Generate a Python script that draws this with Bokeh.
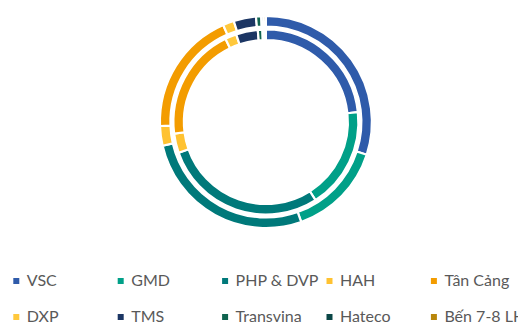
import numpy as np
from bokeh.plotting import figure
from bokeh.models import Range1d, ColumnDataSource
from bokeh.core.properties import value
from bokeh.embed import file_html
from bokeh.resources import INLINE

categories = ["VSC", "GMD", "PHP & DVP", "HAH", "Tân Cảng",
              "DXP", "TMS", "Transvina", "Hateco", "Bến 7-8 LH"]
outer_values = [30.0, 14.6, 26.8, 3.0, 19.0, 1.7, 3.4, 0.8, 0.35, 0.35]
inner_values = [23.3, 17.7, 28.6, 3.4, 19.8, 2.0, 3.8, 0.8, 0.3, 0.3]
colors = ["#2F5BAA", "#00A088", "#00797A", "#FFC231", "#F39C00",
          "#FFC83C", "#1C3664", "#10644F", "#0B4747", "#B8860B"]

W, H = 518, 324
p = figure(width=W, height=H, output_backend="svg", toolbar_location=None,
           x_range=Range1d(0, W), y_range=Range1d(0, H),
           min_border=0, outline_line_color=None)
p.axis.visible = False
p.grid.visible = False
p.background_fill_color = "white"
p.border_fill_color = "white"

cx, cy = 265.4, 324 - 121.5

def ring(vals, r_in, r_out):
    v = np.array(vals, dtype=float)
    frac = v / v.sum()
    c1 = np.cumsum(frac)
    c0 = c1 - frac
    src = ColumnDataSource(dict(
        start=np.pi / 2 - 2 * np.pi * c1,
        end=np.pi / 2 - 2 * np.pi * c0,
        color=colors, name=categories))
    p.annular_wedge(x=cx, y=cy, inner_radius=r_in, outer_radius=r_out,
                    inner_radius_units="screen", outer_radius_units="screen",
                    start_angle="start", end_angle="end", source=src,
                    fill_color="color", line_color="white", line_width=2.2)

ring(outer_values, 95.5, 106)
ring(inner_values, 82, 92.5)

# legend (manual grid, 5 columns x 2 rows)
col_x0, col_dx = 15.8, 104.4
row_y = [324 - 280.5, 324 - 316.5]
mx, my, tx, ty = [], [], [], []
for i in range(len(categories)):
    c, r = i % 5, i // 5
    x = col_x0 + c * col_dx
    mx.append(x)
    my.append(row_y[r])
    tx.append(x + 10.5)
    ty.append(row_y[r] + 1.5)
p.scatter(x=mx, y=my, marker="square", size=6, fill_color=colors,
          line_color=None)
p.text(x=tx, y=ty, text=categories, text_font=value("Lato"),
       text_font_size="16px", text_color="#595959", text_baseline="middle",
       text_align="left")

open("out.html", "w").write(file_html(p, INLINE))
